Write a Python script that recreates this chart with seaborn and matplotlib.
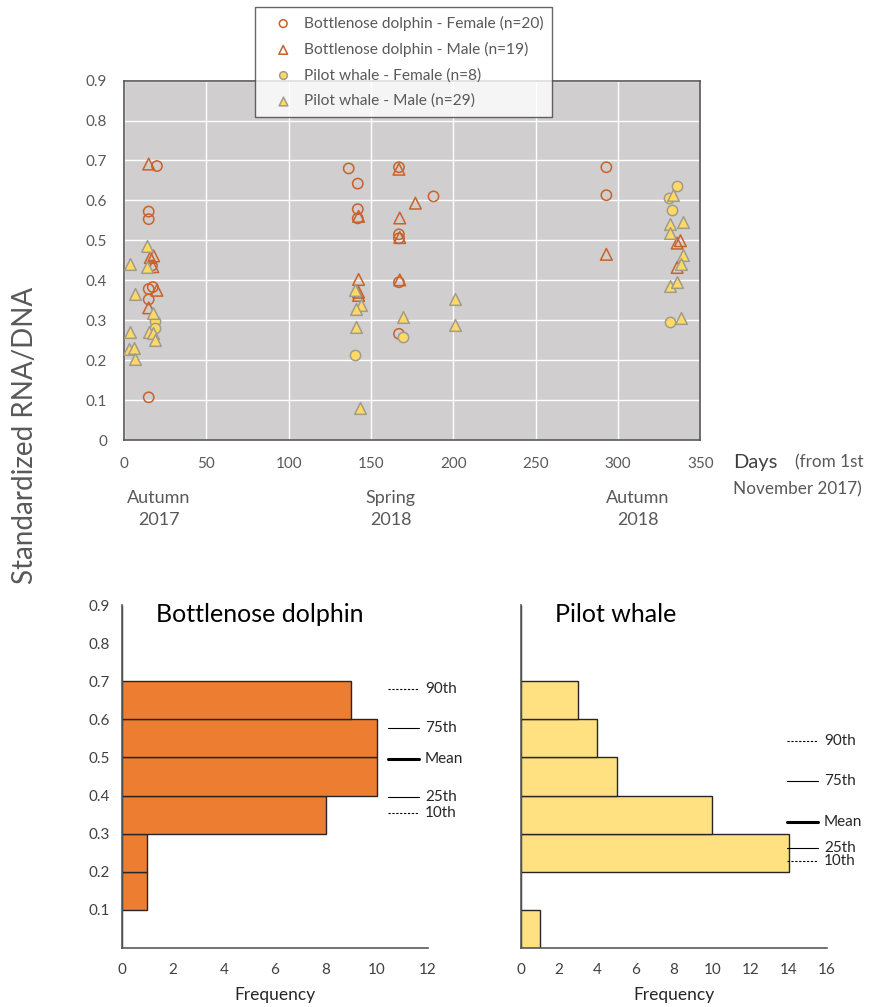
import numpy as np
import pandas as pd
import matplotlib
matplotlib.use("Agg")
import matplotlib.pyplot as plt
import seaborn as sns

# days since 1 Nov 2017, standardized RNA/DNA
bd_f_days = [20, 15, 15, 17, 15, 17.5, 15, 15,
             136.5, 142, 142, 142, 167, 167, 167, 167, 167, 188, 293, 293]
bd_f_vals = [0.686, 0.572, 0.553, 0.437, 0.378, 0.383, 0.352, 0.107,
             0.680, 0.642, 0.578, 0.555, 0.683, 0.515, 0.505, 0.395, 0.266, 0.610, 0.683, 0.613]

bd_m_days = [15, 16, 18, 17.5, 20, 15,
             167, 177, 142.5, 167.5, 167.5, 142.5, 167.5, 142.5, 142.5,
             293, 336, 338, 336]
bd_m_vals = [0.691, 0.457, 0.461, 0.434, 0.375, 0.331,
             0.678, 0.593, 0.560, 0.556, 0.507, 0.402, 0.401, 0.370, 0.362,
             0.465, 0.493, 0.499, 0.432]

pw_f_days = [18.8, 18.8, 140.5, 169.3, 335.8, 331.3, 333, 331.7]
pw_f_vals = [0.297, 0.281, 0.214, 0.258, 0.637, 0.607, 0.576, 0.295]

pw_m_days = [13.8, 3.5, 13.8, 6.5, 17.8, 15.4, 17.4, 3.6, 19, 3.2, 6.1, 6.5,
             140.5, 143.8, 141, 169.3, 141, 143.4, 201, 201,
             333.3, 339.4, 331.7, 331.7, 339.4, 338.2, 331.7, 336.2, 338.2]
pw_m_vals = [0.486, 0.442, 0.432, 0.366, 0.318, 0.271, 0.268, 0.271, 0.251, 0.229, 0.230, 0.203,
             0.375, 0.339, 0.329, 0.308, 0.283, 0.080, 0.354, 0.287,
             0.613, 0.546, 0.540, 0.518, 0.463, 0.440, 0.385, 0.395, 0.306]

# percentile markers
stat_labels = ["90th", "75th", "Mean", "25th", "10th"]
bd_stats = [0.679, 0.576, 0.497, 0.397, 0.355]
pw_stats = [0.543, 0.438, 0.331, 0.262, 0.228]

seasons = ["Autumn\n2017", "Spring\n2018", "Autumn\n2018"]
season_days = [21, 162, 312]

orange = "#C8622A"
bd_bar = "#ED7D31"
yellow = "#FFD966"
pw_bar = "#FFE182"
grey_txt = "#595959"

sns.set_style("white")
plt.rcParams["font.family"] = ["Lato", "DejaVu Sans"]

fig = plt.figure(figsize=(8.77, 10.07), dpi=100)

# ---- top scatter ----
ax = fig.add_axes([0.1414, 0.563, 0.657, 0.357])
ax.set_facecolor("#D0CECE")
ax.grid(True, color="white", linewidth=1)
ax.set_axisbelow(True)

groups = [
    ("Bottlenose dolphin - Female (n=20)", bd_f_days, bd_f_vals, "o", "none", orange, 55),
    ("Bottlenose dolphin - Male (n=19)", bd_m_days, bd_m_vals, "^", "none", orange, 70),
    ("Pilot whale - Female (n=8)", pw_f_days, pw_f_vals, "o", yellow, "#A09C8C", 55),
    ("Pilot whale - Male (n=29)", pw_m_days, pw_m_vals, "^", yellow, "#A09C8C", 70),
]
for lab, d, v, m, fc, ec, s in groups:
    df = pd.DataFrame({"day": d, "val": v})
    sns.scatterplot(data=df, x="day", y="val", marker=m, s=s, facecolor=fc,
                    edgecolor=ec, linewidth=1.1, label=lab, ax=ax, zorder=3)

ax.set_xlim(0, 350)
ax.set_ylim(0, 0.9)
ax.set_xticks(range(0, 351, 50))
ax.set_yticks(np.arange(0, 0.91, 0.1))
ax.set_yticklabels(["0"] + [f"{t:.1f}" for t in np.arange(0.1, 0.91, 0.1)])
ax.tick_params(length=0, labelsize=11, colors=grey_txt)
ax.tick_params(axis="x", pad=12)
ax.tick_params(axis="y", pad=12)
ax.set_xlabel("")
ax.set_ylabel("")
for sp in ax.spines.values():
    sp.set_color("#595959")
    sp.set_linewidth(1.2)

handles, labels = ax.get_legend_handles_labels()
ax.legend_.remove()
leg = fig.legend(handles, labels, loc="upper left", bbox_to_anchor=(0.291, 0.993),
                 frameon=True, fancybox=False, edgecolor="#404040", fontsize=11.2,
                 labelcolor=grey_txt, handletextpad=0.1, borderpad=0.55,
                 labelspacing=0.72, markerscale=0.75, handlelength=2.5,
                 borderaxespad=0)
leg.get_frame().set_linewidth(1.0)
leg.set_zorder(10)

for s_lab, sd in zip(seasons, season_days):
    ax.text(sd, -0.125, s_lab, ha="center", va="top", fontsize=13,
            color=grey_txt, linespacing=1.45)
ax.text(370, -0.055, "Days", ha="left", va="center", fontsize=14.5, color="#404040")
ax.text(449, -0.055, "(from 1st", ha="right", va="center", fontsize=12.3, color=grey_txt)
ax.text(370, -0.123, "November 2017)", ha="left", va="center", fontsize=12.3,
        color=grey_txt)

fig.text(0.028, 0.568, "Standardized RNA/DNA", rotation=90, ha="center", va="center",
         fontsize=20, color=grey_txt)

# ---- bottom histograms ----
bins = np.round(np.arange(0, 1.0, 0.1), 2)
hist_specs = [
    (0.139, bd_f_vals + bd_m_vals, bd_bar, 12, "Bottlenose dolphin", bd_stats, True),
    (0.594, pw_f_vals + pw_m_vals, pw_bar, 16, "Pilot whale", pw_stats, False),
]
for left, vals, col, xmax, title, stats, show_y in hist_specs:
    hx = fig.add_axes([left, 0.0586, 0.349, 0.3406])
    sns.histplot(y=vals, bins=bins, color=col, edgecolor="#262626", linewidth=1,
                 alpha=1, ax=hx)
    hx.set_xlim(0, xmax)
    hx.set_ylim(0, 0.9)
    hx.set_xticks(range(0, xmax + 1, 2))
    hx.set_yticks(np.arange(0, 0.91, 0.1))
    if show_y:
        hx.set_yticklabels([""] + [f"{t:.1f}" for t in np.arange(0.1, 0.91, 0.1)])
    else:
        hx.set_yticklabels([])
    hx.tick_params(direction="out", length=5, width=1, color="#595959",
                   labelsize=11, labelcolor="#404040")
    hx.tick_params(axis="x", pad=6)
    sns.despine(ax=hx)
    for sp in ("left", "bottom"):
        hx.spines[sp].set_color("#595959")
        hx.spines[sp].set_linewidth(1.2)
    hx.set_ylabel("")
    hx.set_xlabel("Frequency", fontsize=12.5, color="#262626", labelpad=7)
    hx.text(0.11, 1.005, title, transform=hx.transAxes, ha="left", va="top",
            fontsize=18, color="black")

    x0, x1 = xmax * 0.868, xmax * 0.97
    styles = [("--", 0.8), ("-", 0.8), ("-", 2.2), ("-", 0.8), ("--", 0.8)]
    for lab, yv, (ls, lw) in zip(stat_labels, stats, styles):
        hx.plot([x0, x1], [yv, yv], ls=ls, lw=lw, color="black", clip_on=False,
                dashes=(2, 1.5) if ls == "--" else (None, None))
        hx.text(x1 + xmax * 0.02, yv, lab, ha="left", va="center", fontsize=11,
                color="#262626", clip_on=False)

fig.savefig("out.png", dpi=100)
